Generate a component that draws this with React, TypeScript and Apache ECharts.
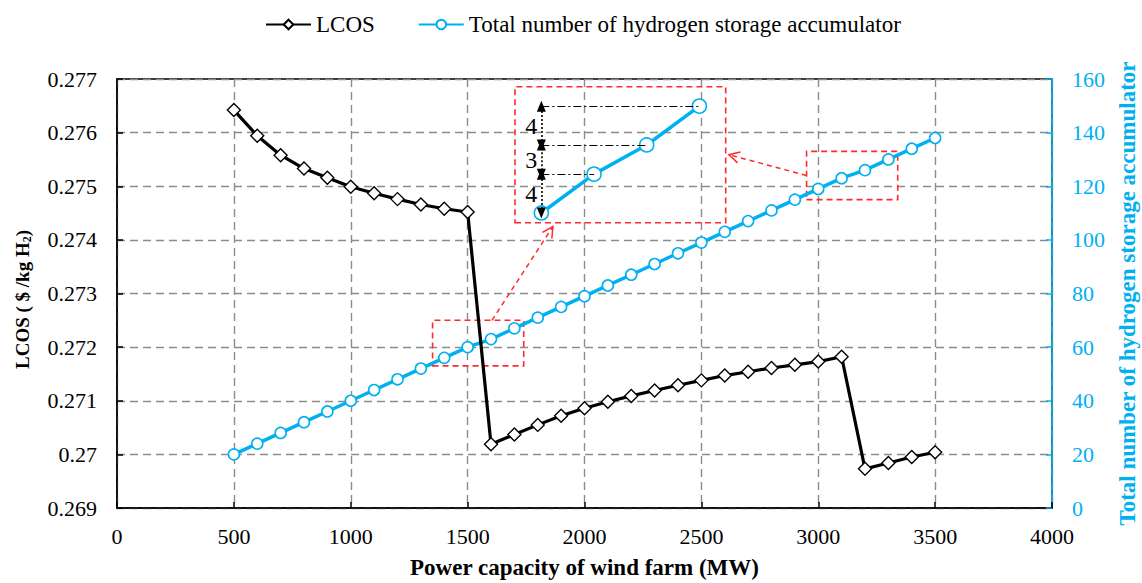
import React, { useEffect, useRef } from "react";
import * as echarts from "echarts";

// ---------- data ----------
const capacities = [
  500, 600, 700, 800, 900, 1000, 1100, 1200, 1300, 1400, 1500, 1600, 1700, 1800, 1900, 2000,
  2100, 2200, 2300, 2400, 2500, 2600, 2700, 2800, 2900, 3000, 3100, 3200, 3300, 3400, 3500,
];
const lcos = [
  0.27642, 0.27594, 0.27558, 0.27533, 0.27516, 0.27499, 0.27487, 0.27476, 0.27466, 0.27458, 0.27452,
  0.27019, 0.27037, 0.27055, 0.27072, 0.27086, 0.27098, 0.27109, 0.27119, 0.27129, 0.27138,
  0.27147, 0.27154, 0.27161, 0.27167, 0.27173, 0.27182, 0.26973, 0.26984, 0.26995, 0.27004,
];
const accumulators = [
  20, 24, 28, 32, 36, 40, 44, 48, 52, 56, 60, 63, 67, 71, 75, 79, 83, 87, 91, 95, 99, 103, 107,
  111, 115, 119, 123, 126, 130, 134, 138,
];
const seriesNames = ["LCOS", "Total number of hydrogen storage accumulator"];
const xAxisName = "Power capacity of wind farm (MW)";
const rightAxisName = "Total number of hydrogen storage accumulator";

// zoomed window (indices into the arrays above) and its data-space frame
const insetFirst = 9;
const insetLast = 12;
const insetXRange = [1350, 1750];
const insetYRange = [55, 69];
// dashed red boxes marked on the main chart (x0, y0, x1, y1 in right-axis units)
const zoomBox1 = [1350, 53, 1740, 70];
const zoomBox2 = [2950, 115, 3340, 133];
// arrow endpoints: [from main-chart coord, to inset coord]
const arrow1 = [[1604, 70], [1422, 54.6]];
const arrow2 = [[2950, 124], [1756, 62]];

const BLUE = "#00B0F0";
const RED = "#FF2A2A";
const FONT = "Liberation Serif";

export default function App() {
  const ref = useRef<HTMLDivElement>(null);

  useEffect(() => {
    if (!ref.current) return;
    const chart = echarts.init(ref.current, null, { renderer: "svg" });

    const lcosData = capacities.map((c, i) => [c, lcos[i]]);
    const accData = capacities.map((c, i) => [c, accumulators[i]]);
    const insetData = accData.slice(insetFirst, insetLast + 1);
    const x0 = insetData[0][0];

    const dashDot: any[] = [];
    const dims: any[] = [];
    const dimLabels: any[] = [];
    for (let i = 1; i < insetData.length; i++) {
      dashDot.push([
        { coord: [x0, insetData[i][1]], symbol: "none", lineStyle: { type: [8, 3, 2, 3], width: 1.2, color: "#000" } },
        { coord: [insetData[i][0], insetData[i][1]], symbol: "none" },
      ]);
      dims.push([
        { coord: [x0, insetData[i - 1][1]], symbol: "triangle", symbolSize: [9, 11], lineStyle: { type: [2, 2], width: 1.6, color: "#000" } },
        { coord: [x0, insetData[i][1]], symbol: "triangle", symbolSize: [9, 11] },
      ]);
      dimLabels.push([x0, (insetData[i - 1][1] + insetData[i][1]) / 2, insetData[i][1] - insetData[i - 1][1]]);
    }

    const grey = { color: "#8c8c8c", width: 1.4, type: [8, 5] as any };

    const option: any = {
      animation: false,
      textStyle: { fontFamily: FONT },
      legend: {
        top: 8,
        left: 260,
        itemWidth: 45,
        itemHeight: 12,
        itemGap: 43,
        data: seriesNames,
        textStyle: { fontFamily: FONT, fontSize: 23, color: "#000" },
      },
      grid: [
        {
          left: 117,
          right: 90,
          top: 79,
          bottom: 75,
          show: true,
          borderColor: "#000",
          borderWidth: 1.5,
          containLabel: false,
          outerBoundsMode: "none",
        },
        { left: 515, top: 86.7, width: 210.7, height: 136, show: false, outerBoundsMode: "none" },
      ],
      xAxis: [
        {
          type: "value",
          gridIndex: 0,
          min: 0,
          max: 4000,
          interval: 500,
          name: xAxisName,
          nameLocation: "middle",
          nameGap: 48,
          nameTextStyle: { fontFamily: FONT, fontSize: 23, fontWeight: "bold", color: "#000" },
          axisLine: { lineStyle: { color: "#000", width: 1.5 } },
          axisTick: { inside: true, length: 6, lineStyle: { color: "#000", width: 1.5 } },
          axisLabel: {
            margin: 17,
            fontFamily: FONT,
            fontSize: 22,
            color: "#000",
            formatter: (v: number) => String(v),
          },
          splitLine: { show: true, lineStyle: grey },
        },
        {
          type: "value",
          gridIndex: 1,
          min: insetXRange[0],
          max: insetXRange[1],
          show: false,
          splitLine: { show: false },
        },
      ],
      yAxis: [
        {
          type: "value",
          gridIndex: 0,
          min: 0.269,
          max: 0.277,
          interval: 0.001,
          position: "left",
          name: "{a|LCOS ( $ /kg H}{s|2}{a|)}",
          nameLocation: "middle",
          nameRotate: 90,
          nameGap: 84,
          nameTextStyle: {
            padding: [0, 12, 0, 0],
            rich: {
              a: { fontFamily: FONT, fontSize: 19, fontWeight: "bold", color: "#000" },
              s: { fontFamily: FONT, fontSize: 12, fontWeight: "bold", color: "#000", padding: [9, 0, 0, 0] },
            },
          },
          axisLine: { show: true, lineStyle: { color: "#000", width: 1.5 } },
          axisTick: { show: true, inside: true, length: 6, lineStyle: { color: "#000", width: 1.5 } },
          axisLabel: {
            margin: 20,
            fontFamily: FONT,
            fontSize: 22,
            color: "#000",
            formatter: (v: number) => String(parseFloat(v.toFixed(3))),
          },
          splitLine: { show: true, lineStyle: grey },
        },
        {
          type: "value",
          gridIndex: 0,
          min: 0,
          max: 160,
          interval: 20,
          position: "right",
          name: rightAxisName,
          nameLocation: "middle",
          nameRotate: 90,
          nameGap: 61,
          nameTextStyle: { fontFamily: FONT, fontSize: 23, fontWeight: "bold", color: BLUE },
          axisLine: { show: true, lineStyle: { color: BLUE, width: 1.5 } },
          axisTick: { show: true, inside: true, length: 6, lineStyle: { color: BLUE, width: 1.5 } },
          axisLabel: {
            margin: 20,
            fontFamily: FONT,
            fontSize: 22,
            color: BLUE,
          },
          splitLine: { show: false },
        },
        {
          type: "value",
          gridIndex: 1,
          min: insetYRange[0],
          max: insetYRange[1],
          show: false,
          splitLine: { show: false },
        },
      ],
      series: [
        {
          name: seriesNames[1],
          type: "line",
          xAxisIndex: 0,
          yAxisIndex: 1,
          data: accData,
          z: 2,
          symbol: "circle",
          symbolSize: 11,
          lineStyle: { color: BLUE, width: 3.5 },
          itemStyle: { color: "#fff", borderColor: BLUE, borderWidth: 1.6 },
          markArea: {
            silent: true,
            itemStyle: { color: "rgba(0,0,0,0)", borderColor: RED, borderWidth: 1.6, borderType: [6, 4] },
            data: [
              [{ coord: [zoomBox1[0], zoomBox1[1]] }, { coord: [zoomBox1[2], zoomBox1[3]] }],
              [{ coord: [zoomBox2[0], zoomBox2[1]] }, { coord: [zoomBox2[2], zoomBox2[3]] }],
            ],
          },
        },
        {
          name: seriesNames[0],
          type: "line",
          xAxisIndex: 0,
          yAxisIndex: 0,
          data: lcosData,
          z: 3,
          symbol: "diamond",
          symbolSize: 13,
          lineStyle: { color: "#000", width: 3.2 },
          itemStyle: { color: "#fff", borderColor: "#000", borderWidth: 1.4 },
        },
        {
          name: "inset",
          type: "line",
          xAxisIndex: 1,
          yAxisIndex: 2,
          data: insetData,
          z: 4,
          symbol: "circle",
          symbolSize: 14,
          lineStyle: { color: BLUE, width: 3.5 },
          itemStyle: { color: "#fff", borderColor: BLUE, borderWidth: 1.6 },
          markArea: {
            silent: true,
            itemStyle: { color: "rgba(0,0,0,0)", borderColor: RED, borderWidth: 1.6, borderType: [6, 4] },
            data: [[{ coord: [insetXRange[0], insetYRange[0]] }, { coord: [insetXRange[1], insetYRange[1]] }]],
          },
          markLine: {
            silent: true,
            symbol: "none",
            label: { show: false },
            emphasis: { disabled: true },
            data: [...dashDot, ...dims],
          },
        },
      ],
    };

    chart.setOption(option);

    const mkArrow = (a: number[][], fromIdx: any, toIdx: any) => {
      const p0 = chart.convertToPixel(fromIdx, a[0]) as number[];
      const p1 = chart.convertToPixel(toIdx, a[1]) as number[];
      const ang = Math.atan2(p1[1] - p0[1], p1[0] - p0[0]);
      const L = 12;
      const th = (28 * Math.PI) / 180;
      const w1 = [p1[0] - L * Math.cos(ang - th), p1[1] - L * Math.sin(ang - th)];
      const w2 = [p1[0] - L * Math.cos(ang + th), p1[1] - L * Math.sin(ang + th)];
      return [
        {
          type: "line",
          shape: { x1: p0[0], y1: p0[1], x2: p1[0], y2: p1[1] },
          style: { stroke: RED, lineWidth: 1.5, lineDash: [5, 4] },
          z: 10,
        },
        {
          type: "polyline",
          shape: { points: [w1, p1, w2] },
          style: { stroke: RED, lineWidth: 1.5, fill: null },
          z: 10,
        },
      ];
    };
    const mainIdx = { xAxisIndex: 0, yAxisIndex: 1 };
    const insetIdx = { xAxisIndex: 1, yAxisIndex: 2 };
    const labelEls = dimLabels.map((d) => {
      const p = chart.convertToPixel(insetIdx, [d[0], d[1]]) as number[];
      return {
        type: "text",
        x: p[0] - 4,
        y: p[1],
        z: 10,
        style: {
          text: String(d[2]),
          fontFamily: FONT,
          fontSize: 24,
          fill: "#000",
          align: "right",
          verticalAlign: "middle",
        },
      };
    });
    chart.setOption({
      graphic: [...mkArrow(arrow1, mainIdx, insetIdx), ...mkArrow(arrow2, mainIdx, insetIdx), ...labelEls],
    });

    return () => chart.dispose();
  }, []);

  return (
    <div
      ref={ref}
      style={{ position: "fixed", left: 0, top: 0, width: 1142, height: 583, background: "#fff" }}
    />
  );
}
